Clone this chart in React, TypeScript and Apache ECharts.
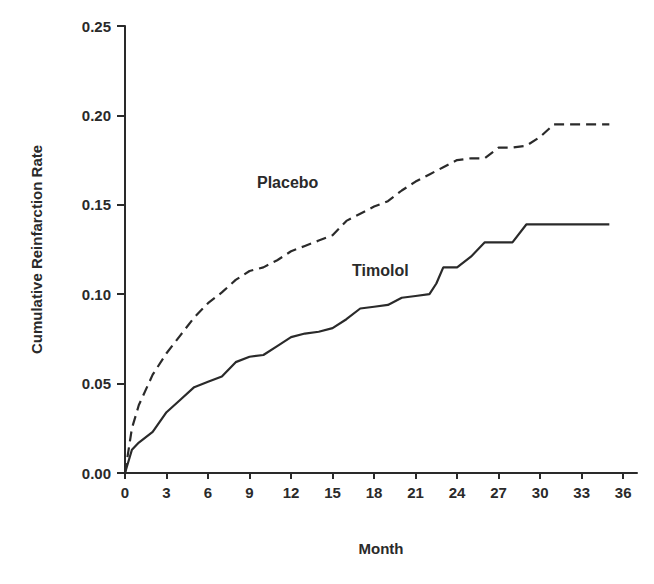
import React, { useEffect, useRef } from 'react';
import * as echarts from 'echarts';

const placeboMonths = [0, 0.5, 1, 2, 3, 4, 5, 6, 7, 8, 9, 10, 11, 12, 13, 14, 15, 16, 17, 18, 19, 20, 21, 22, 23, 24, 25, 26, 27, 28, 29, 30, 31, 35];
const placeboRate = [0, 0.025, 0.038, 0.055, 0.067, 0.077, 0.087, 0.095, 0.101, 0.108, 0.113, 0.115, 0.119, 0.124, 0.127, 0.13, 0.133, 0.141, 0.145, 0.149, 0.152, 0.158, 0.163, 0.167, 0.171, 0.175, 0.176, 0.176, 0.182, 0.182, 0.183, 0.188, 0.195, 0.195];
const timololMonths = [0, 0.5, 1, 2, 3, 4, 5, 6, 7, 8, 9, 10, 11, 12, 13, 14, 15, 16, 17, 18, 19, 20, 21, 22, 22.5, 23, 24, 25, 26, 27, 28, 29, 35];
const timololRate = [0, 0.013, 0.017, 0.023, 0.034, 0.041, 0.048, 0.051, 0.054, 0.062, 0.065, 0.066, 0.071, 0.076, 0.078, 0.079, 0.081, 0.086, 0.092, 0.093, 0.094, 0.098, 0.099, 0.1, 0.106, 0.115, 0.115, 0.121, 0.129, 0.129, 0.129, 0.139, 0.139];

const ink = '#2a2a2a';
const font = 'Liberation Sans';

const App = () => {
  const ref = useRef<HTMLDivElement>(null);

  useEffect(() => {
    const chart = echarts.init(ref.current!, null, { renderer: 'svg' });
    chart.setOption({
      animation: false,
      backgroundColor: '#fff',
      grid: { left: 117, right: 9, top: 18, bottom: 103 },
      xAxis: {
        type: 'value', min: 0, max: 37, interval: 3,
        name: 'Month', nameLocation: 'middle', nameGap: 68,
        nameTextStyle: { color: ink, fontFamily: font, fontWeight: 'bold', fontSize: 15 },
        axisLine: { lineStyle: { color: ink, width: 2 } },
        axisTick: { lineStyle: { color: ink, width: 2 }, length: 6 },
        axisLabel: { color: ink, fontFamily: font, fontWeight: 'bold', fontSize: 15, margin: 12, showMaxLabel: false },
        splitLine: { show: false }
      },
      yAxis: {
        type: 'value', min: 0, max: 0.25, interval: 0.05,
        name: 'Cumulative Reinfarction Rate', nameLocation: 'middle', nameGap: 81,
        nameTextStyle: { color: ink, fontFamily: font, fontWeight: 'bold', fontSize: 15 },
        axisLine: { lineStyle: { color: ink, width: 2 } },
        axisTick: { lineStyle: { color: ink, width: 2 }, length: 8 },
        axisLabel: { color: ink, fontFamily: font, fontWeight: 'bold', fontSize: 15, margin: 14, formatter: (v: number) => v.toFixed(2) },
        splitLine: { show: false }
      },
      series: [
        {
          type: 'line', name: 'Placebo', symbol: 'none',
          data: placeboMonths.map((m, i) => [m, placeboRate[i]]),
          lineStyle: { color: ink, width: 2.2, type: [10, 6] }
        },
        {
          type: 'line', name: 'Timolol', symbol: 'none',
          data: timololMonths.map((m, i) => [m, timololRate[i]]),
          lineStyle: { color: ink, width: 2.2 }
        }
      ],
      graphic: [
        { type: 'text', left: 249, top: 166, style: { text: 'Placebo', fill: ink, font: `bold 16px ${font}` } },
        { type: 'text', left: 344, top: 254, style: { text: 'Timolol', fill: ink, font: `bold 16px ${font}` } }
      ]
    });
    return () => chart.dispose();
  }, []);

  return <div ref={ref} style={{ width: 638, height: 568 }} />;
};

export default App;
